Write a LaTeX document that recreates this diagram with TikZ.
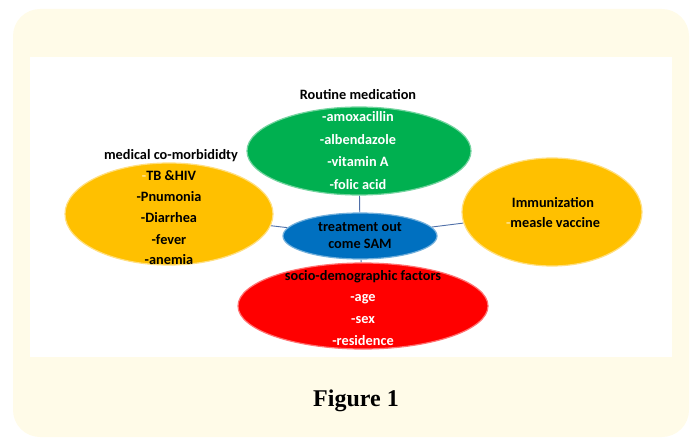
\documentclass[tikz,border=0pt]{standalone}
\usepackage{fontspec}
\setmainfont{Carlito}
\newfontfamily\capfont{Liberation Serif}
\usetikzlibrary{shapes.geometric}
\definecolor{creambg}{HTML}{FFFBE8}
\definecolor{medgreen}{HTML}{00B050}
\definecolor{gold}{HTML}{FFC000}
\definecolor{outblue}{HTML}{0070C0}
\definecolor{redfill}{HTML}{FF0000}
\definecolor{linkcol}{HTML}{4F6FA8}
\pgfdeclarelayer{bg}
\pgfdeclarelayer{links}
\pgfsetlayers{bg,links,main}
\tikzset{
  ell/.style={ellipse, inner sep=0pt, line width=1.2pt},
  lbl/.style={anchor=base, inner sep=0pt, font=\bfseries\fontsize{14.3}{17}\selectfont},
  wlbl/.style={lbl, text=white},
  link/.style={draw=linkcol, line width=0.9pt}
}
\begin{document}
\begin{tikzpicture}[x=1pt,y=-1pt]
\useasboundingbox (0,0) rectangle (690,438);
\begin{pgfonlayer}{bg}
  \fill[creambg, rounded corners=27pt] (13,9) rectangle (689,437);
  \fill[white] (30,57) rectangle (672,357);
\end{pgfonlayer}

% ellipses
\node[ell, fill=medgreen, draw=medgreen!55!white, minimum width=224pt, minimum height=88pt] (med) at (359,151) {};
\node[ell, fill=gold, draw=gold!50!white, minimum width=208pt, minimum height=102pt] (comorb) at (169,214) {};
\node[ell, fill=gold, draw=gold!50!white, minimum width=180pt, minimum height=108pt] (immun) at (552,212) {};
\node[ell, fill=redfill, draw=redfill!55!white, minimum width=250pt, minimum height=86pt] (socio) at (363,306) {};
\node[ell, fill=outblue, draw=outblue!55!white, minimum width=154pt, minimum height=46pt] (outcome) at (360,236) {};

\begin{pgfonlayer}{links}
  \draw[link] (outcome) -- (med);
  \draw[link] (outcome) -- (comorb);
  \draw[link] (outcome) -- (immun);
  \draw[link] (outcome) -- (socio);
\end{pgfonlayer}

% green: routine medication
\node[lbl] (medtitle) at (358,100) {Routine medication};
\node[wlbl] (med1) at (358,122) {-amoxacillin};
\node[wlbl] (med2) at (358,145) {-albendazole};
\node[wlbl] (med3) at (358,167) {-vitamin A};
\node[wlbl] (med4) at (358,190) {-folic acid};

% left: co-morbidity
\node[lbl] (cotitle) at (171,160) {medical co-morbididty};
\node[lbl] (co1) at (169,181) {\textcolor{gold!40!white}{-}TB \&HIV};
\node[lbl] (co2) at (169,202) {-Pnumonia};
\node[lbl] (co3) at (169,223) {-Diarrhea};
\node[lbl] (co4) at (169,244) {-fever};
\node[lbl] (co5) at (169,265) {-anemia};

% right: immunization
\node[lbl] (im1) at (553,208) {Immunization};
\node[lbl] (im2) at (553,228) {\textcolor{gold!40!white}{-}measle vaccine};

% centre: outcome
\node[lbl] (out1) at (360,232) {treatment out};
\node[lbl] (out2) at (360,248) {come SAM};

% red: socio-demographic
\node[lbl] (sotitle) at (363,280) {socio-demographic factors};
\node[wlbl] (so1) at (363,301) {-age};
\node[wlbl] (so2) at (363,323) {-sex};
\node[wlbl] (so3) at (363,345) {-residence};

% caption
\node[anchor=base, inner sep=0pt, font=\capfont\bfseries\fontsize{24}{28}\selectfont] (caption) at (356,406) {Figure 1};
\end{tikzpicture}
\end{document}
